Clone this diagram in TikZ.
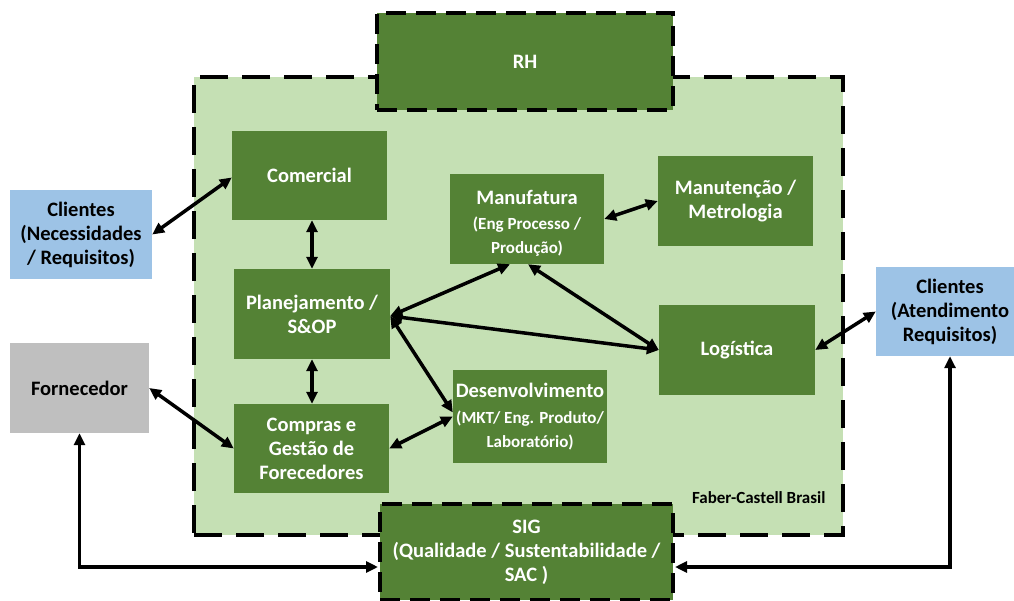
\documentclass[tikz,border=0pt]{standalone}
\usepackage{fontspec}
\setmainfont{Carlito}
\usetikzlibrary{arrows.meta,calc}
\definecolor{unitgreen}{RGB}{84,130,53}
\definecolor{areagreen}{RGB}{197,224,180}
\definecolor{clientblue}{RGB}{157,195,230}
\definecolor{suppliergrey}{RGB}{191,191,191}
\newcommand{\bigtxt}{\fontsize{20.5}{24}\selectfont}
\newcommand{\smalltxt}{\fontsize{17}{21}\selectfont}
\tikzset{
  unit/.style={rectangle, fill=unitgreen, text=white, font=\bfseries\bigtxt,
               align=center, inner sep=0pt},
  outside/.style={unit, text=black},
  dashborder/.style={draw=black, line width=4pt, dash pattern=on 20pt off 10pt},
  link/.style={line width=3.5pt,
               {Triangle[length=12pt,width=11pt]}-{Triangle[length=12pt,width=11pt]}}
}
\begin{document}
\begin{tikzpicture}[x=1pt,y=-1pt]
\clip (0,0) rectangle (1014,601);
\fill[white] (0,0) rectangle (1014,601);

% company area
\node[rectangle, fill=areagreen, draw=black, line width=4pt,
      dash pattern=on 28pt off 14pt, minimum width=649pt, minimum height=458pt]
      (fcb) at (518.5,306) {};
\node[anchor=east, font=\bfseries\fontsize{17}{19}\selectfont] (fcblabel)
      at (829,498) {Faber-Castell Brasil};

% internal units
\node[unit, minimum width=155pt, minimum height=89pt] (com) at (309.5,175.5) {Comercial};
\node[unit, minimum width=156pt, minimum height=90pt] (plan) at (312,314) {Planejamento /\\S\&OP};
\node[unit, minimum width=155pt, minimum height=89pt] (comp) at (311.5,448.5) {Compras e\\Gestão de\\Forecedores};
\node[unit, minimum width=154pt, minimum height=90pt] (manuf) at (527,219)
      {\rule{0pt}{22pt}Manufatura\\[1pt]\smalltxt (Eng Processo /\\\smalltxt Produção)};
\node[unit, minimum width=155pt, minimum height=90pt] (manut) at (735.5,201) {Manutenção /\\Metrologia};
\node[unit, minimum width=156pt, minimum height=90pt] (log) at (737,350) {Logística};
\node[unit, minimum width=154pt, minimum height=93pt] (desenv) at (530,416.5)
      {Desenvolvimento\\[2pt]\smalltxt (MKT/ Eng. Produto/\\\smalltxt Laboratório)};

% cross-cutting units
\node[unit, dashborder, minimum width=296pt, minimum height=97pt] (rh) at (525,61.5) {RH};
\node[unit, dashborder, minimum width=293pt, minimum height=96pt] (sig) at (526.5,552)
      {SIG\\(Qualidade / Sustentabilidade /\\SAC )};

% external parties
\node[outside, fill=clientblue, minimum width=142pt, minimum height=89pt] (clin) at (81,234.5)
      {Clientes\\(Necessidades\\/ Requisitos)};
\node[outside, fill=suppliergrey, minimum width=139pt, minimum height=90pt] (forn) at (79.5,388) {Fornecedor};
\node[outside, fill=clientblue, minimum width=148pt, minimum height=89pt] (clout) at (950,311.5)
      {Clientes\\(Atendimento\\Requisitos)};

% flows
\draw[link] (clin.east) -- ([yshift=-2pt]com.west);
\draw[link] (com.south -| plan.north) -- (plan.north);
\draw[link] (plan.south) -- (plan.south |- comp.north);
\draw[link] (forn.east) -- (comp.west);
\draw[link] (comp.east) -- (desenv.west);
\draw[link] ([yshift=-2pt]plan.east) -- ([xshift=-17pt]manuf.south);
\draw[link] ([yshift=-2pt]plan.east) -- (log.west);
\draw[link] ([yshift=-2pt]plan.east) -- ([yshift=4pt]desenv.west);
\draw[link] ([xshift=1pt]manuf.south) -- (log.west);
\draw[link] (manuf.east) -- (manut.west);
\draw[link] (log.east) -- (clout.west);
\draw[link] (forn.south) |- ([yshift=-15pt]sig.west);
\draw[link] (clout.south) |- ([yshift=-15pt]sig.east);
\end{tikzpicture}
\end{document}
